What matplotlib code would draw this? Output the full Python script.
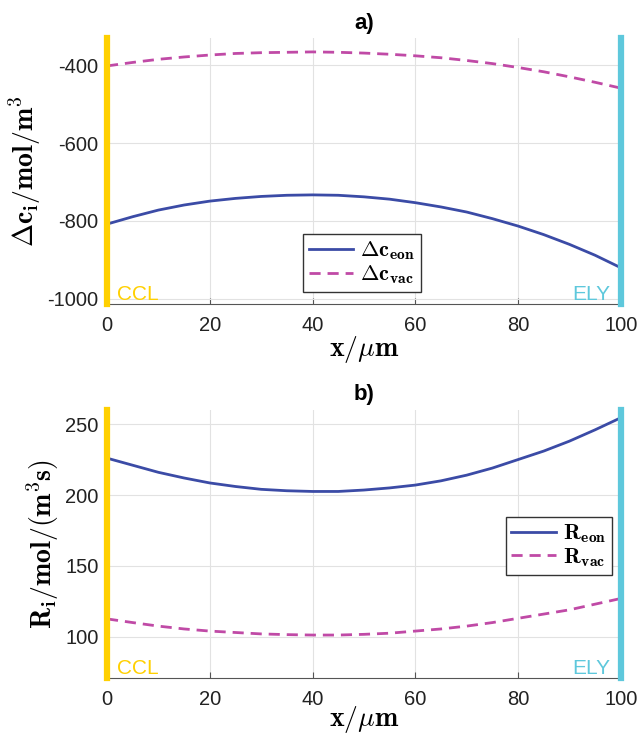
import numpy as np
import matplotlib.pyplot as plt

plt.rcParams['font.family'] = ['Liberation Sans', 'DejaVu Sans']
plt.rcParams['mathtext.fontset'] = 'cm'
plt.rcParams['axes.unicode_minus'] = False

x = list(range(0, 101, 5))
dc_eon = [-808, -789, -772, -759, -749, -742, -737, -734, -733, -734, -738,
          -744, -753, -764, -777, -794, -813, -835, -860, -888, -920]
dc_vac = [-402, -393, -385, -379, -374, -370, -368, -367, -366, -367, -369,
          -372, -376, -381, -388, -396, -406, -417, -430, -444, -459]
r_eon = [226, 221, 216, 212, 208.5, 206, 204, 203, 202.5, 202.5, 203.5,
         205, 207, 210, 214, 219, 225, 231, 238, 246, 254.5]
r_vac = [112.6, 110, 107.5, 105.5, 104, 103, 102, 101.5, 101.2, 101.2, 101.7,
         102.5, 104, 105.5, 107.5, 110, 113, 116, 119, 123, 127]

blue = '#3b4ba6'
mag = '#c04aa6'
yel = '#ffd000'
cya = '#5ec8dc'

fig = plt.figure(figsize=(6.42, 7.36), dpi=100)
ax1 = fig.add_axes([0.1667, 0.587, 0.8003, 0.361])
ax2 = fig.add_axes([0.1667, 0.079, 0.8003, 0.364])


def style(ax, ylim, yticks):
    ax.set_xlim(0, 100)
    ax.set_ylim(*ylim)
    ax.set_xticks(range(0, 101, 20))
    ax.set_yticks(yticks)
    ax.grid(True, color='#e2e2e2', lw=0.8)
    ax.set_axisbelow(True)
    for s in ['top', 'right', 'left']:
        ax.spines[s].set_visible(False)
    ax.spines['bottom'].set_color('#555555')
    ax.tick_params(direction='in', labelsize=14.5, colors='#555555',
                   labelcolor='#222222', length=4)
    ax.tick_params(axis='x', pad=9)
    ax.tick_params(axis='y', length=0, pad=6)
    ax.axvline(0, color=yel, lw=4.5, zorder=5, clip_on=False)
    ax.axvline(100, color=cya, lw=4.5, zorder=5, clip_on=False)
    ax.text(2, ylim[0], 'CCL', color=yel, fontsize=15, va='bottom', ha='left')
    ax.text(98, ylim[0], 'ELY', color=cya, fontsize=15, va='bottom', ha='right')


leg_kw = dict(fontsize=16, fancybox=False, edgecolor='#333333', framealpha=1,
              handlelength=2.0, borderpad=0.25, labelspacing=0.05,
              handletextpad=0.3, borderaxespad=0)

ax1.plot(x, dc_eon, color=blue, lw=2, label=r'$\mathbf{\Delta c_{eon}}$')
ax1.plot(x, dc_vac, color=mag, lw=2, ls=(0, (4, 2.5)), label=r'$\mathbf{\Delta c_{vac}}$')
style(ax1, (-1013, -331), [-1000, -800, -600, -400])
ax1.set_xlabel(r'$\mathbf{x/\mu m}$', fontsize=20, labelpad=-1)
ax1.set_ylabel(r'$\mathbf{\Delta c_i/mol/m^3}$', fontsize=20, labelpad=3)
ax1.set_title('a)', fontsize=16, fontweight='bold', pad=7)
ax1.legend(loc='lower left', bbox_to_anchor=(0.382, 0.045), **leg_kw)

ax2.plot(x, r_eon, color=blue, lw=2, label=r'$\mathbf{R_{eon}}$')
ax2.plot(x, r_vac, color=mag, lw=2, ls=(0, (4, 2.5)), label=r'$\mathbf{R_{vac}}$')
style(ax2, (71, 260), [100, 150, 200, 250])
ax2.set_xlabel(r'$\mathbf{x/\mu m}$', fontsize=20, labelpad=-4)
ax2.set_ylabel(r'$\mathbf{R_i/mol/(m^3 s)}$', fontsize=20, labelpad=3)
ax2.set_title('b)', fontsize=16, fontweight='bold', pad=7)
ax2.legend(loc='lower right', bbox_to_anchor=(0.982, 0.385), **leg_kw)

fig.savefig('out.png', dpi=100)
